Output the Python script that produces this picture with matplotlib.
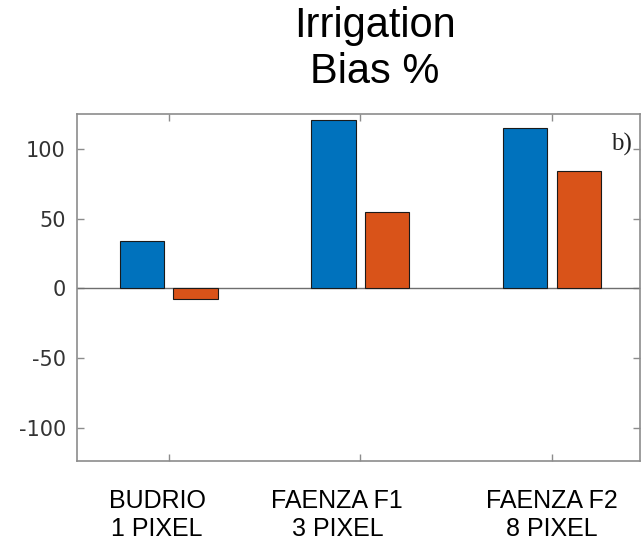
import matplotlib
matplotlib.use("Agg")
import matplotlib.pyplot as plt
import numpy as np

sites = ["BUDRIO\n1 PIXEL", "FAENZA F1\n3 PIXEL", "FAENZA F2\n8 PIXEL"]
bias_a = [34, 121, 115]
bias_b = [-8, 55, 84]
label_shift = [-0.06, -0.12, 0.0]

blue = "#0072BD"
orange = "#D95319"
axis_grey = "#8c8c8c"


def main():
    plt.rcParams["axes.unicode_minus"] = False
    fig = plt.figure(figsize=(6.41, 5.4), dpi=100)
    ax = fig.add_axes([0.120, 0.1463, 0.878, 0.6426])

    x = np.arange(1, len(sites) + 1)
    w = 0.23
    ax.bar(x - 0.14, bias_a, w, color=blue, edgecolor="#1a1a1a", linewidth=0.8, zorder=3)
    ax.bar(x + 0.14, bias_b, w, color=orange, edgecolor="#1a1a1a", linewidth=0.8, zorder=3)
    ax.axhline(0, color="#6e6e6e", linewidth=1.0, zorder=2)

    ax.set_xlim(0.521, 3.458)
    ax.set_ylim(-124, 125)
    ax.set_yticks([-100, -50, 0, 50, 100])
    ax.set_xticks(x)
    ax.set_xticklabels([])

    for s in ax.spines.values():
        s.set_color(axis_grey)
        s.set_linewidth(1.2)
    ax.tick_params(direction="in", length=5, width=1, color=axis_grey,
                   top=True, right=True, labelsize=15, labelcolor="#333333", pad=8)

    # category names sit below the axis as two-line labels
    for xi, name, dx in zip(x, sites, label_shift):
        ax.text(xi + dx, -0.08, name, transform=ax.get_xaxis_transform(),
                ha="center", va="top", fontsize=18, family="Liberation Sans",
                linespacing=1.2, color="black")

    ax.text(3.31, 103, "b)", fontsize=18, family="Liberation Serif", color="#222222",
            va="center", ha="left")

    fig.text(375 / 641, 1 - 6 / 540, "Irrigation\nBias %", ha="center", va="top",
             fontsize=30, family="Liberation Sans", linespacing=1.2)

    fig.savefig("out.png", dpi=100)


if __name__ == "__main__":
    main()
